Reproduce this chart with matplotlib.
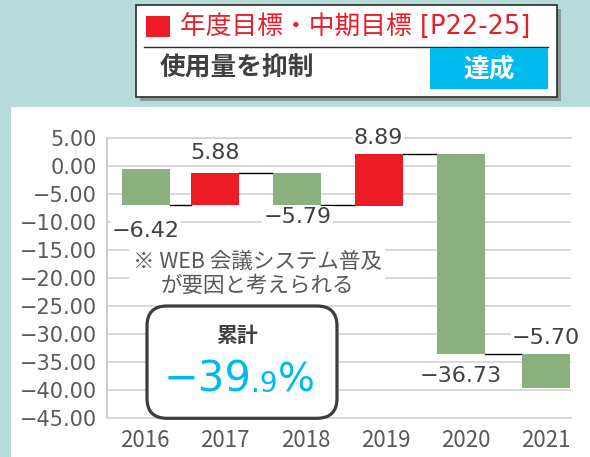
import matplotlib
matplotlib.use("Agg")
import matplotlib.pyplot as plt
from matplotlib.patches import Rectangle, FancyBboxPatch
from matplotlib.transforms import IdentityTransform
import numpy as np

# data
years = ["2016", "2017", "2018", "2019", "2020", "2021"]
changes = [-6.42, 5.88, -5.79, 8.89, -36.73, -5.70]
# bar extents as they are drawn in the source graphic
bar_top = [-0.65, -1.25, -1.25, 2.1, 2.1, -33.6]
bar_bottom = [-7.1, -7.1, -7.1, -7.2, -33.6, -39.7]
ytick_values = [5, 0, -5, -10, -15, -20, -25, -30, -35, -40, -45]
total_big = "\u221239"
total_small = ".9"
note = "※ WEB 会議システム普及\nが要因と考えられる"
title = "年度目標・中期目標 [P22-25]"
subtitle = "使用量を抑制"
status = "達成"

W, H = 590, 457
GREEN = "#8ab07e"
RED = "#ed1c24"
CYAN = "#00b9ef"
TEAL = "#b6dbd9"
GREY = "#595959"
DARK = "#404040"
FONTS = ["DejaVu Sans", "Noto Sans CJK JP"]
JP = ["Noto Sans CJK JP", "DejaVu Sans"]

plt.rcParams["font.family"] = FONTS


def fx(x):
    return x / W


def fy(y):
    # y measured from the top of the image
    return 1 - y / H


fig = plt.figure(figsize=(W / 100, H / 100), dpi=100, facecolor=TEAL)

# white panel behind the chart
fig.add_artist(Rectangle((fx(11), 0), fx(W) - fx(11), fy(107), transform=fig.transFigure,
                         facecolor="white", edgecolor="none", zorder=-1))

ax = fig.add_axes([fx(106.7), fy(417.7), fx(570.7) - fx(106.7), fy(137.7) - fy(417.7)])
ax.set_facecolor("white")

# bar shifts from the tick positions, as in the source
shift = [0.01, -0.125, -0.1, -0.087, -0.062, 0.0]
x = np.arange(len(years)) + np.array(shift)
top = np.array(bar_top)
bot = np.array(bar_bottom)
colors = [GREEN if c < 0 else RED for c in changes]
ax.bar(x, top - bot, bottom=bot, width=0.6, color=colors, zorder=3)

# connectors between bar ends
ends = [bot[i] if changes[i] < 0 else top[i] for i in range(len(changes))]
for i in range(len(changes) - 1):
    ax.plot([x[i] + 0.3, x[i + 1] - 0.3], [ends[i], ends[i]], color="black", lw=1.0, zorder=2)

# value labels
label_dy = [-26, 20, -12, 16, -22, 50]
for i, c in enumerate(changes):
    ax.annotate(f"{c:.2f}".replace("-", "\u2212"), (x[i], ends[i]), xytext=(0, label_dy[i]),
                textcoords="offset pixels", ha="center", va="center", fontsize=16,
                color=DARK, zorder=6,
                bbox=dict(boxstyle="square,pad=0.05", facecolor="white", edgecolor="none"))

ax.set_xlim(-0.48, 5.31)
ax.set_ylim(-45, 5)
ax.set_xticks(range(len(years)))
ax.set_xticklabels(years)
ax.set_yticks(ytick_values)
ax.set_yticklabels([f"{v:.2f}".replace("-", "\u2212") for v in ytick_values])
for lab in ax.get_xticklabels():
    lab.set_family(JP)
ax.tick_params(axis="y", length=0, pad=7, labelsize=15, labelcolor=GREY)
ax.tick_params(axis="x", length=0, pad=8, labelsize=16, labelcolor=GREY)
ax.yaxis.grid(True, color="#d0d0d0", lw=1.1)
ax.set_axisbelow(True)
for s in ["top", "bottom"]:
    ax.spines[s].set_color("#d0d0d0")
    ax.spines[s].set_linewidth(1.1)
ax.spines["left"].set_color("#c0c0c0")
ax.spines["left"].set_linewidth(1.1)
ax.spines["right"].set_visible(False)

# note
fig.text(fx(257), fy(274), note, ha="center", va="center", ma="center", fontsize=15.5,
         color=GREY, family=JP, linespacing=1.1, zorder=5,
         bbox=dict(boxstyle="square,pad=0.15", facecolor="white", edgecolor="none"))

# cumulative total box
fig.add_artist(FancyBboxPatch((147, H - 418.3), 190, 112.3,
                              boxstyle="round,pad=0,rounding_size=20",
                              transform=IdentityTransform(), facecolor="white",
                              edgecolor="#3d3d3d", lw=2.3, zorder=4))
fig.text(fx(237), fy(335), "累計", ha="center", va="center", fontsize=15, fontweight="bold",
         color=DARK, family=JP, zorder=5)
parts = [fig.text(0, fy(391.7), total_big, fontsize=30, color=CYAN, va="baseline", zorder=5),
         fig.text(0, fy(391.7), total_small, fontsize=20, color=CYAN, va="baseline", zorder=5),
         fig.text(0, fy(391.7), "%", fontsize=28, color=CYAN, va="baseline", zorder=5)]
fig.canvas.draw()
r = fig.canvas.get_renderer()
widths = [p.get_window_extent(r).width for p in parts]
x0 = 239 - sum(widths) / 2
for p, w in zip(parts, widths):
    p.set_x(fx(x0))
    x0 += w

# header box
fig.add_artist(Rectangle((fx(140), fy(100.5)), fx(556.7) - fx(136), fy(5) - fy(96.7),
                         transform=fig.transFigure, facecolor="#7d8b8a", edgecolor="none",
                         alpha=0.8, zorder=6))
fig.add_artist(Rectangle((fx(136), fy(96.7)), fx(556.7) - fx(136), fy(5) - fy(96.7),
                         transform=fig.transFigure, facecolor="white", edgecolor="#2b2b2b",
                         lw=1.2, zorder=7))
fig.add_artist(Rectangle((fx(146), fy(37)), fx(24), fy(16) - fy(37),
                         transform=fig.transFigure, facecolor=RED, edgecolor="none", zorder=8))
fig.text(fx(180), fy(27), title, ha="left", va="center", fontsize=18.5, color="#e5202a",
         zorder=8)
fig.add_artist(plt.Line2D([fx(144), fx(548)], [fy(47.3), fy(47.3)], transform=fig.transFigure,
                          color="#2b2b2b", lw=1.0, zorder=8))
fig.add_artist(Rectangle((fx(430), fy(89)), fx(118), fy(48.3) - fy(89),
                         transform=fig.transFigure, facecolor=CYAN, edgecolor="none", zorder=8))
fig.text(fx(160), fy(68), subtitle, ha="left", va="center", fontsize=18.5, fontweight="bold",
         color=DARK, family=JP, zorder=9)
fig.text(fx(489), fy(68.5), status, ha="center", va="center", fontsize=18.5, fontweight="bold",
         color="white", family=JP, zorder=9)

fig.savefig("out.png", dpi=100, facecolor=TEAL)
